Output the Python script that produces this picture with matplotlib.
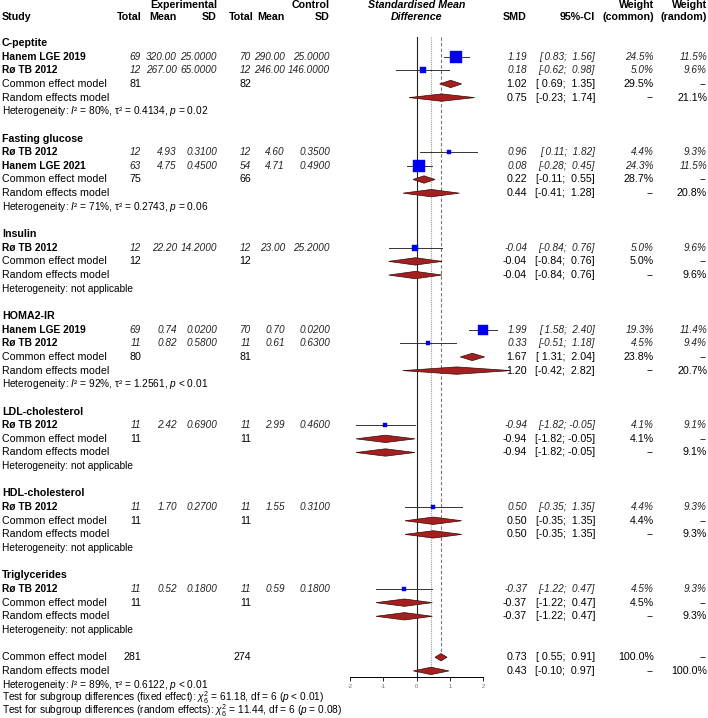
import numpy as np
import matplotlib
matplotlib.use('Agg')
import matplotlib.pyplot as plt
import matplotlib.transforms as mtransforms
from matplotlib.patches import Polygon

matplotlib.rc('font', family='Liberation Sans', size=7.7)
matplotlib.rc('mathtext', fontset='custom', rm='Liberation Sans',
              it='Liberation Sans:italic', bf='Liberation Sans:bold')

groups = ['C-peptite', 'Fasting glucose', 'Insulin', 'HOMA2-IR',
          'LDL-cholesterol', 'HDL-cholesterol', 'Triglycerides']

# single studies
study_group = [0, 0, 1, 1, 2, 3, 3, 4, 5, 6]
study_names = ['Hanem LGE 2019', 'Rø TB 2012', 'Rø TB 2012', 'Hanem LGE 2021',
               'Rø TB 2012', 'Hanem LGE 2019', 'Rø TB 2012', 'Rø TB 2012',
               'Rø TB 2012', 'Rø TB 2012']
exp_n = [69, 12, 12, 63, 12, 69, 11, 11, 11, 11]
exp_mean = [320.00, 267.00, 4.93, 4.75, 22.20, 0.74, 0.82, 2.42, 1.70, 0.52]
exp_sd = [25.0, 65.0, 0.31, 0.45, 14.2, 0.02, 0.58, 0.69, 0.27, 0.18]
ctl_n = [70, 12, 12, 54, 12, 70, 11, 11, 11, 11]
ctl_mean = [290.00, 246.00, 4.60, 4.71, 23.00, 0.70, 0.61, 2.99, 1.55, 0.59]
ctl_sd = [25.0, 146.0, 0.35, 0.49, 25.2, 0.02, 0.63, 0.46, 0.31, 0.18]
smd = [1.19, 0.18, 0.96, 0.08, -0.04, 1.99, 0.33, -0.94, 0.50, -0.37]
smd_lo = [0.83, -0.62, 0.11, -0.28, -0.84, 1.58, -0.51, -1.82, -0.35, -1.22]
smd_hi = [1.56, 0.98, 1.82, 0.45, 0.76, 2.40, 1.18, -0.05, 1.35, 0.47]
w_common = [24.5, 5.0, 4.4, 24.3, 5.0, 19.3, 4.5, 4.1, 4.4, 4.5]
w_random = [11.5, 9.6, 9.3, 11.5, 9.6, 11.4, 9.4, 9.1, 9.3, 9.3]

# subgroup pooled estimates
grp_exp_n = [81, 75, 12, 80, 11, 11, 11]
grp_ctl_n = [82, 66, 12, 81, 11, 11, 11]
fe = [1.02, 0.22, -0.04, 1.67, -0.94, 0.50, -0.37]
fe_lo = [0.69, -0.11, -0.84, 1.31, -1.82, -0.35, -1.22]
fe_hi = [1.35, 0.55, 0.76, 2.04, -0.05, 1.35, 0.47]
fe_w = [29.5, 28.7, 5.0, 23.8, 4.1, 4.4, 4.5]
re = [0.75, 0.44, -0.04, 1.20, -0.94, 0.50, -0.37]
re_lo = [-0.23, -0.41, -0.84, -0.42, -1.82, -0.35, -1.22]
re_hi = [1.74, 1.28, 0.76, 2.82, -0.05, 1.35, 0.47]
re_w = [21.1, 20.8, 9.6, 20.7, 9.1, 9.3, 9.3]
het_i2 = [80, 71, None, 92, None, None, None]
het_tau2 = [0.4134, 0.2743, None, 1.2561, None, None, None]
het_p = ['= 0.02', '= 0.06', None, '< 0.01', None, None, None]

# overall
all_exp_n, all_ctl_n = 281, 274
all_fe, all_fe_lo, all_fe_hi = 0.73, 0.55, 0.91
all_re, all_re_lo, all_re_hi = 0.43, -0.10, 0.97
all_het = (89, 0.6122, '< 0.01')
test_fixed = (61.18, 6, '< 0.01')
test_random = (11.44, 6, '= 0.08')

W, H = 708, 718
X0, UNIT = 416.7, 33.3          # pixel of SMD=0, pixels per SMD unit
ROW0, ROWH = 2.05, 13.65        # pixel of row 0, pixels per row

SQ_COL = '#0000ee'
DM_COL = '#a3201f'
VAL_FS = 7.2    # italic study values
NAME_FS = 7.4   # bold study names
HET_FS = 7.3

fig = plt.figure(figsize=(W / 100, H / 100), dpi=100)
ax = fig.add_axes([0, 0, 1, 1])
ax.set_xlim(-X0 / UNIT, (W - X0) / UNIT)
ax.set_ylim((H - ROW0) / ROWH, -ROW0 / ROWH)
ax.patch.set_visible(False)
tr = mtransforms.blended_transform_factory(fig.transFigure, ax.transData)


def txt(xpx, row, s, ha='right', **kw):
    ax.text(xpx / W, row, s, transform=tr, ha=ha, va='center', **kw)


def ci(lo, hi):
    return '[{:5.2f}; {:5.2f}]'.format(lo, hi)


def pct(v):
    return '--' if v is None else '{:.1f}%'.format(v)


def het_text(i2, tau2, p):
    return r'Heterogeneity: $I$² = {}%, τ² = {:.4f}, $p$ {}'.format(i2, tau2, p)


def diamond(est, lo, hi, row, h=0.27):
    ax.add_patch(Polygon([[lo, row], [est, row - h], [hi, row], [est, row + h]],
                         closed=True, facecolor=DM_COL, edgecolor='#3a0808',
                         lw=0.5, zorder=3))


cols = [141, 177, 217, 251, 285, 330]
C_SMD, C_CI, C_WC, C_WR = 527, 595, 654, 707

# header
h0, h1 = 0.22, 1.12
txt(2, h1, 'Study', ha='left', weight='bold')
txt(217, h0, 'Experimental', weight='bold')
txt(330, h0, 'Control', weight='bold')
for c, lab in zip([142, 177, 217, 254, 284, 330],
                  ['Total', 'Mean', 'SD', 'Total', 'Mean', 'SD']):
    txt(c, h1, lab, weight='bold')
txt(X0, h0, 'Standardised Mean', ha='center', weight='bold', style='italic')
txt(X0, h1, 'Difference', ha='center', weight='bold', style='italic')
txt(C_SMD, h1, 'SMD', weight='bold')
txt(C_CI, h1, '95%-CI', weight='bold')
txt(C_WC, h0, 'Weight', weight='bold')
txt(C_WC, h1, '(common)', weight='bold')
txt(C_WR, h0, 'Weight', weight='bold')
txt(C_WR, h1, '(random)', weight='bold')

ival = dict(style='italic', color='#222222', fontsize=VAL_FS)

row = 3
for g, gname in enumerate(groups):
    txt(2, row, gname, ha='left', weight='bold')
    row += 1
    for i in [k for k, sg in enumerate(study_group) if sg == g]:
        txt(2, row, study_names[i], ha='left', weight='bold', fontsize=NAME_FS)
        vals = ['{}'.format(exp_n[i]), '{:.2f}'.format(exp_mean[i]),
                '{:.4f}'.format(exp_sd[i]), '{}'.format(ctl_n[i]),
                '{:.2f}'.format(ctl_mean[i]), '{:.4f}'.format(ctl_sd[i])]
        for c, v in zip(cols, vals):
            txt(c, row, v, **ival)
        txt(C_SMD, row, '{:.2f}'.format(smd[i]), **ival)
        txt(C_CI, row, ci(smd_lo[i], smd_hi[i]), **ival)
        txt(C_WC, row, pct(w_common[i]), **ival)
        txt(C_WR, row, pct(w_random[i]), **ival)
        ax.plot([smd_lo[i], smd_hi[i]], [row, row], color='#333333', lw=0.7, zorder=2)
        side = 11.5 * np.sqrt(w_common[i] / 24.5)
        ax.plot(smd[i], row, marker='s', ms=side * 0.72, color=SQ_COL,
                mec=SQ_COL, mew=0.3, zorder=4)
        row += 1
    # common effect
    txt(2, row, 'Common effect model', ha='left')
    txt(cols[0], row, str(grp_exp_n[g]))
    txt(cols[3], row, str(grp_ctl_n[g]))
    txt(C_SMD, row, '{:.2f}'.format(fe[g]))
    txt(C_CI, row, ci(fe_lo[g], fe_hi[g]))
    txt(C_WC, row, pct(fe_w[g]))
    txt(C_WR, row, '--')
    diamond(fe[g], fe_lo[g], fe_hi[g], row)
    row += 1
    # random effects
    txt(2, row, 'Random effects model', ha='left')
    txt(C_SMD, row, '{:.2f}'.format(re[g]))
    txt(C_CI, row, ci(re_lo[g], re_hi[g]))
    txt(C_WC, row, '--')
    txt(C_WR, row, pct(re_w[g]))
    diamond(re[g], re_lo[g], re_hi[g], row)
    row += 1
    if het_i2[g] is None:
        s = 'Heterogeneity: not applicable'
    else:
        s = het_text(het_i2[g], het_tau2[g], het_p[g])
    txt(2, row, s, ha='left', fontsize=HET_FS)
    row += 2

# overall
fe_row = row
txt(2, row, 'Common effect model', ha='left')
txt(cols[0], row, str(all_exp_n))
txt(cols[3], row, str(all_ctl_n))
txt(C_SMD, row, '{:.2f}'.format(all_fe))
txt(C_CI, row, ci(all_fe_lo, all_fe_hi))
txt(C_WC, row, '100.0%')
txt(C_WR, row, '--')
diamond(all_fe, all_fe_lo, all_fe_hi, row)
row += 1
re_row = row
txt(2, row, 'Random effects model', ha='left')
txt(C_SMD, row, '{:.2f}'.format(all_re))
txt(C_CI, row, ci(all_re_lo, all_re_hi))
txt(C_WC, row, '--')
txt(C_WR, row, '100.0%')
diamond(all_re, all_re_lo, all_re_hi, row)
row += 1
txt(2, row, het_text(*all_het), ha='left', fontsize=HET_FS)
row += 0.97
txt(2, row, r'Test for subgroup differences (fixed effect): $\chi^2_{{{1}}}$ = {0:.2f}, df = {1} ($p$ {2})'
    .format(*test_fixed), ha='left', fontsize=HET_FS)
row += 0.93
txt(2, row, r'Test for subgroup differences (random effects): $\chi^2_{{{1}}}$ = {0:.2f}, df = {1} ($p$ {2})'
    .format(*test_random), ha='left', fontsize=HET_FS)

# reference lines
top = (37 - ROW0) / ROWH
axis_row = (677 - ROW0) / ROWH
ax.plot([0, 0], [top, axis_row], color='#222222', lw=0.8, zorder=1)
ax.plot([all_fe, all_fe], [top, fe_row - 0.27], color='#777777', lw=0.8,
        ls=(0, (3, 2)), zorder=1)
ax.plot([all_re, all_re], [top, re_row - 0.27], color='#999999', lw=0.8,
        ls=(0, (1, 1)), zorder=1)

# x axis
for side in ['top', 'left', 'right']:
    ax.spines[side].set_visible(False)
ax.spines['bottom'].set_position(('data', axis_row))
ax.spines['bottom'].set_bounds(-2, 2)
ax.spines['bottom'].set_linewidth(0.7)
ax.set_xticks([-2, -1, 0, 1, 2])
ax.set_xticklabels(['-2', '-1', '0', '1', '2'])
ax.tick_params(axis='x', labelsize=4, length=3, width=0.6, pad=2,
               labelcolor='#666666')
ax.set_yticks([])

fig.savefig('out.png', dpi=100)
